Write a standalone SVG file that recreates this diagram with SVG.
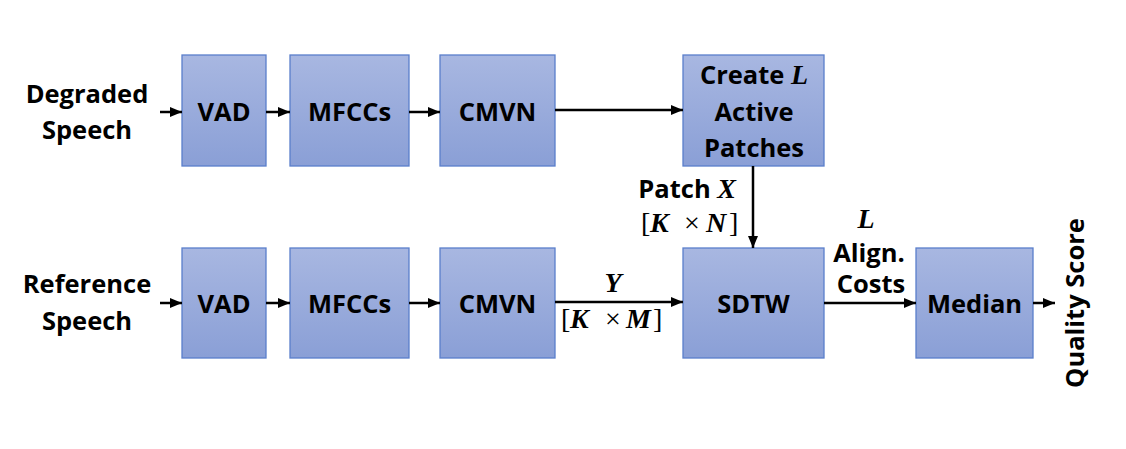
<svg xmlns="http://www.w3.org/2000/svg" width="1126" height="449" viewBox="0 0 1126 449">
<defs>
<linearGradient id="g" x1="0" y1="0" x2="0" y2="1">
<stop offset="0" stop-color="#A8B7E1"/>
<stop offset="1" stop-color="#8A9FD6"/>
</linearGradient>
<marker id="ah" markerWidth="12" markerHeight="10" refX="12" refY="5" orient="auto" markerUnits="userSpaceOnUse">
<path d="M0,0 L12,5 L0,10 Z" fill="#000"/>
</marker>
<style>
.box{fill:url(#g);stroke:#5A7FCB;stroke-width:1.3}
.t{font-family:"Open Sans","Liberation Sans",sans-serif;font-weight:bold;font-size:25.5px;fill:#000;text-anchor:middle}
.m{font-family:"Liberation Serif",serif;font-weight:bold;font-style:italic;font-size:28px;fill:#000}
.mr{font-family:"Liberation Serif",serif;font-size:28px;fill:#000}
.c{stroke:#000;stroke-width:2.5;fill:none;marker-end:url(#ah)}
</style>
</defs>
<rect width="1126" height="449" fill="#fff"/>
<g id="in-degraded"><text class="t" x="87" y="103">Degraded</text><text class="t" x="87" y="139">Speech</text></g>
<g id="in-reference"><text class="t" x="87" y="293">Reference</text><text class="t" x="87" y="330">Speech</text></g>
<g id="vad1"><rect class="box" x="182" y="55" width="84" height="111"/><text class="t" x="224" y="121">VAD</text></g>
<g id="mfcc1"><rect class="box" x="290" y="55" width="119" height="111"/><text class="t" x="349.5" y="121">MFCCs</text></g>
<g id="cmvn1"><rect class="box" x="440" y="55" width="115" height="111"/><text class="t" x="497.5" y="121">CMVN</text></g>
<g id="create"><rect class="box" x="683" y="55" width="141" height="111"/>
<text class="t" x="754" y="84">Create <tspan class="m">L</tspan></text>
<text class="t" x="754" y="121">Active</text><text class="t" x="754" y="157">Patches</text></g>
<g id="vad2"><rect class="box" x="182" y="248" width="84" height="110"/><text class="t" x="224" y="313">VAD</text></g>
<g id="mfcc2"><rect class="box" x="290" y="248" width="119" height="110"/><text class="t" x="349.5" y="313">MFCCs</text></g>
<g id="cmvn2"><rect class="box" x="440" y="248" width="115" height="110"/><text class="t" x="497.5" y="313">CMVN</text></g>
<g id="sdtw"><rect class="box" x="683" y="248" width="141" height="110"/><text class="t" x="753.5" y="313">SDTW</text></g>
<g id="median"><rect class="box" x="916" y="248" width="117" height="110"/><text class="t" x="974.5" y="313">Median</text></g>
<g id="out"><text class="t" transform="translate(1084,303) rotate(-90)" x="0" y="0">Quality Score</text></g>
<g id="connectors">
<line class="c" x1="160" y1="112" x2="182" y2="112"/>
<line class="c" x1="266" y1="112" x2="290" y2="112"/>
<line class="c" x1="409" y1="112" x2="440" y2="112"/>
<line class="c" x1="555" y1="110" x2="683" y2="110"/>
<line class="c" x1="160" y1="303" x2="182" y2="303"/>
<line class="c" x1="266" y1="303" x2="290" y2="303"/>
<line class="c" x1="409" y1="303" x2="440" y2="303"/>
<line class="c" x1="555" y1="302" x2="683" y2="302"/>
<line class="c" x1="753" y1="166" x2="753" y2="248"/>
<line class="c" x1="824" y1="303" x2="916" y2="303"/>
<line class="c" x1="1033" y1="303" x2="1055" y2="303"/>
</g>
<g id="labels">
<text class="t" x="736" y="198" style="text-anchor:end">Patch <tspan class="m">X</tspan></text>
<text class="mr" y="232"><tspan x="641">[</tspan><tspan class="m" x="650">K</tspan><tspan x="684">×</tspan><tspan class="m" x="706">N</tspan><tspan x="729">]</tspan></text>
<text class="m" x="613" y="292" text-anchor="middle">Y</text>
<text class="mr" y="328"><tspan x="561">[</tspan><tspan class="m" x="570">K</tspan><tspan x="605">×</tspan><tspan class="m" x="626">M</tspan><tspan x="653">]</tspan></text>
<text class="m" x="866" y="228" text-anchor="middle">L</text>
<text class="t" x="869" y="262">Align.</text>
<text class="t" x="871" y="293">Costs</text>
</g>
</svg>
